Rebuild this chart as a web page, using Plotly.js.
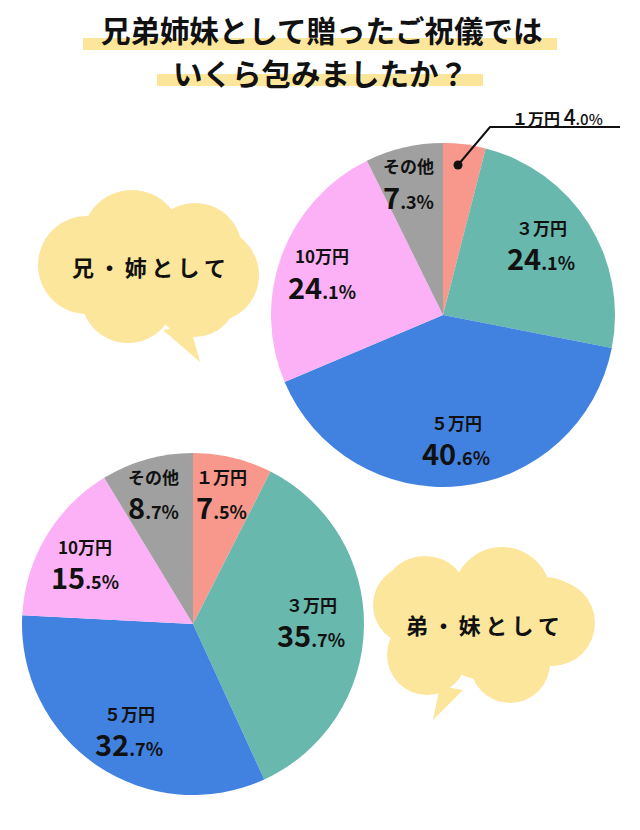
<!DOCTYPE html>
<html>
<head>
<meta charset="utf-8">
<script src="https://cdn.plot.ly/plotly-3.0.1.min.js"></script>
<style>
  html, body { margin: 0; padding: 0; background: #fff; }
  #plot { width: 640px; height: 830px; }
</style>
</head>
<body>
<div id="plot"></div>
<script>
// data
const categories = ['１万円', '３万円', '５万円', '10万円', 'その他'];
const olderValues = [4.0, 24.1, 40.6, 24.1, 7.3];     // 兄・姉として
const youngerValues = [7.5, 35.7, 32.7, 15.5, 8.7];   // 弟・妹として
const sliceColors = ['#F8978C', '#68B8AE', '#4182E0', '#FCB1F6', '#A0A0A0'];
const titleLines = ['兄弟姉妹として贈ったご祝儀では', 'いくら包みましたか？'];
const groupNames = ['兄・姉として', '弟・妹として'];

// label spots (px), one per category, in the same order
const olderLabelPos = [[557, 116], [541, 242], [456, 437], [322, 271], [408, 181]];
const youngerLabelPos = [[221, 491], [311, 619], [129, 728], [85, 561], [153, 491]];

const W = 640, H = 830;
const X = px => px / W;
const Y = py => 1 - py / H;
const FONT = '"Noto Sans CJK JP", "Noto Sans", sans-serif';

function pctText(v, big, small) {
  const p = v.toFixed(1).split('.');
  return '<span style="font-size:' + big + 'px">' + p[0] + '</span>' +
         '<span style="font-size:' + small + 'px">.' + p[1] + '%</span>';
}

function pie(values, x0, x1, y0, y1) {
  return {
    type: 'pie',
    labels: categories,
    values: values,
    sort: false,
    direction: 'clockwise',
    rotation: 0,
    textinfo: 'none',
    hoverinfo: 'label+percent',
    marker: {colors: sliceColors, line: {width: 0}},
    domain: {x: [X(x0), X(x1)], y: [Y(y1), Y(y0)]},
    showlegend: false
  };
}

const data = [
  pie(olderValues, 271, 615, 143, 487),
  pie(youngerValues, 22, 364, 453, 795)
];

const shapes = [];
const annotations = [];

function circle(cx, cy, r, color) {
  shapes.push({
    type: 'circle', xref: 'paper', yref: 'paper',
    x0: X(cx - r), x1: X(cx + r), y0: Y(cy + r), y1: Y(cy - r),
    fillcolor: color, line: {width: 0}, layer: 'below'
  });
}

function poly(pts, color) {
  let d = '';
  pts.forEach((p, i) => { d += (i ? ' L ' : 'M ') + X(p[0]) + ',' + Y(p[1]); });
  shapes.push({type: 'path', xref: 'paper', yref: 'paper', path: d + ' Z',
    fillcolor: color, line: {width: 0}, layer: 'below'});
}

function rect(x0, y0, x1, y1, color) {
  shapes.push({type: 'rect', xref: 'paper', yref: 'paper',
    x0: X(x0), x1: X(x1), y0: Y(y1), y1: Y(y0),
    fillcolor: color, line: {width: 0}, layer: 'below'});
}

function text(str, x, y, size, weight) {
  annotations.push({
    xref: 'paper', yref: 'paper', x: X(x), y: Y(y),
    xanchor: 'center', yanchor: 'middle', showarrow: false,
    text: str, font: {family: FONT, size: size, color: '#111', weight: weight || 'normal'}
  });
}

// title with yellow marker bands
const YELLOW = '#FCE69B';
rect(83, 38, 557, 50, YELLOW);
rect(157, 74, 483, 86, YELLOW);
text(titleLines[0], 322, 29, 29.5, 'bold');
text(titleLines[1], 320, 72, 29.5, 'bold');

// cloud bubbles
[[132, 240, 50], [195, 250, 47], [212, 275, 47], [87, 265, 49],
 [128, 296, 47], [195, 295, 42], [150, 268, 55]].forEach(c => circle(c[0], c[1], c[2], YELLOW));
poly([[163, 330], [200, 362], [190, 326]], YELLOW);

[[413, 605, 40], [425, 600, 44], [502, 596, 49], [545, 620, 43], [552, 623, 43],
 [427, 655, 40], [510, 663, 40], [485, 625, 55]].forEach(c => circle(c[0], c[1], c[2], YELLOW));
poly([[440, 686], [433, 720], [463, 690]], YELLOW);

const sp = '\u2009';
text(groupNames[0].split('').join(sp), 149, 266, 22, 'bold');
text(groupNames[1].split('').join(sp), 483, 624, 22, 'bold');

// slice labels: name on top, percentage below
function sliceLabels(values, pos, skipFirst) {
  values.forEach((v, i) => {
    if (skipFirst && i === 0) return;
    text(categories[i], pos[i][0], pos[i][1] - 15, 17, 'bold');
    text(pctText(v, 29, 18), pos[i][0], pos[i][1] + 15, 18, 'bold');
  });
}
sliceLabels(olderValues, olderLabelPos, true);
sliceLabels(youngerValues, youngerLabelPos, false);

// small slice in first pie: label outside with leader line
text('<b>' + categories[0] + '</b> ' + pctText(olderValues[0], 21, 15),
     olderLabelPos[0][0], olderLabelPos[0][1], 16, 500);
shapes.push({type: 'path', xref: 'paper', yref: 'paper',
  path: 'M ' + X(458) + ',' + Y(165) + ' L ' + X(490) + ',' + Y(127) + ' L ' + X(620) + ',' + Y(127),
  line: {color: '#111', width: 2}, layer: 'above'});
shapes.push({type: 'circle', xref: 'paper', yref: 'paper',
  x0: X(453.5), x1: X(462.5), y0: Y(169.5), y1: Y(160.5),
  fillcolor: '#111', line: {width: 0}, layer: 'above'});

const layout = {
  width: W, height: H,
  margin: {l: 0, r: 0, t: 0, b: 0},
  paper_bgcolor: '#fff',
  shapes: shapes,
  annotations: annotations,
  font: {family: FONT}
};

Plotly.newPlot('plot', data, layout, {displayModeBar: false, staticPlot: true});
</script>
</body>
</html>
